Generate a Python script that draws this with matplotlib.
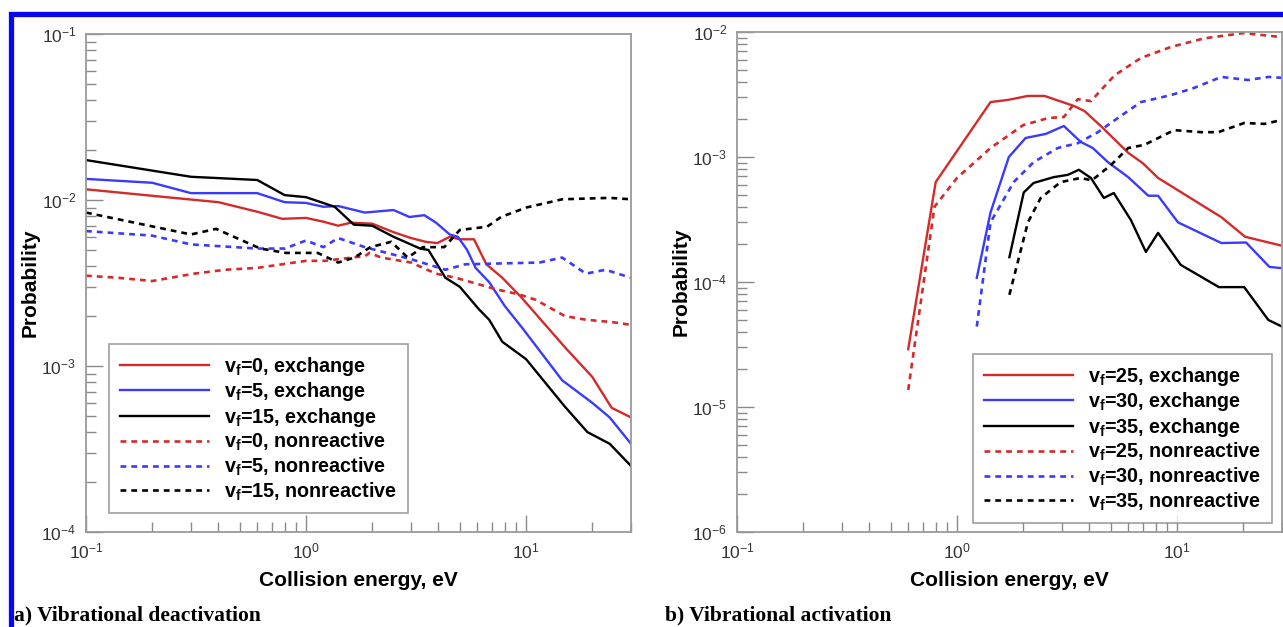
import matplotlib
matplotlib.use("Agg")
import matplotlib.pyplot as plt
from matplotlib.patches import Rectangle
from matplotlib.ticker import LogLocator, NullFormatter

plt.rcParams['font.family'] = ['Liberation Sans', 'DejaVu Sans']
plt.rcParams['mathtext.fontset'] = 'custom'
plt.rcParams['mathtext.rm'] = 'Liberation Sans'
plt.rcParams['mathtext.it'] = 'Liberation Sans:italic'
plt.rcParams['mathtext.bf'] = 'Liberation Sans:bold'

# ---------------- Panel a: vibrational deactivation ----------------
a_e_vf0_exch = [0.1, 0.2, 0.4, 0.6, 0.78, 1.0, 1.2, 1.4, 1.6, 2.0, 2.5, 3.0, 3.5, 3.95, 4.5, 5.0, 5.8, 6.6, 7.8, 9.5, 15, 20, 24.5, 30]
a_p_vf0_exch = [0.0116, 0.0106, 0.0097, 0.0085, 0.0077, 0.0078, 0.0074, 0.0070, 0.0073, 0.0072, 0.0064, 0.0059, 0.0056, 0.0055, 0.0060, 0.0058, 0.0058, 0.0041, 0.0034, 0.0026, 0.0013, 0.00086, 0.00056, 0.00049]

a_e_vf5_exch = [0.1, 0.2, 0.3, 0.6, 0.8, 1.0, 1.2, 1.4, 1.85, 2.5, 2.95, 3.45, 3.9, 4.5, 4.9, 5.4, 5.9, 6.8, 8.0, 9.6, 14.6, 20, 24, 30]
a_p_vf5_exch = [0.0134, 0.0127, 0.0110, 0.0110, 0.0097, 0.0096, 0.0091, 0.0092, 0.0084, 0.0087, 0.0079, 0.0081, 0.0073, 0.0062, 0.0060, 0.0050, 0.0039, 0.0032, 0.0023, 0.0017, 0.00082, 0.00060, 0.00049, 0.00034]

a_e_vf15_exch = [0.1, 0.3, 0.6, 0.8, 1.0, 1.35, 1.65, 2.0, 2.5, 3.3, 3.6, 4.3, 5.0, 6.1, 6.8, 7.8, 10, 15, 19, 24, 30]
a_p_vf15_exch = [0.0174, 0.0138, 0.0132, 0.0107, 0.0104, 0.0091, 0.0071, 0.0070, 0.0060, 0.0051, 0.0050, 0.0034, 0.0030, 0.0022, 0.0019, 0.0014, 0.0011, 0.00057, 0.00040, 0.00034, 0.00025]

a_e_vf0_nonr = [0.1, 0.14, 0.2, 0.31, 0.43, 0.6, 0.78, 1.0, 1.22, 1.4, 1.86, 1.94, 2.2, 3.0, 3.9, 4.8, 7.3, 9.3, 11.1, 15, 18.7, 24.5, 30]
a_p_vf0_nonr = [0.0035, 0.0034, 0.00325, 0.0036, 0.0038, 0.0039, 0.0041, 0.0043, 0.0043, 0.0044, 0.0046, 0.0048, 0.0045, 0.0042, 0.0036, 0.0034, 0.0029, 0.0027, 0.0025, 0.0020, 0.0019, 0.00184, 0.00177]

a_e_vf5_nonr = [0.1, 0.2, 0.3, 0.6, 0.8, 1.0, 1.2, 1.4, 1.85, 3.0, 4.3, 5.3, 11.5, 14.6, 18.7, 23, 30]
a_p_vf5_nonr = [0.0065, 0.0061, 0.0054, 0.0051, 0.0051, 0.0057, 0.0052, 0.0059, 0.0052, 0.0044, 0.0038, 0.0041, 0.0042, 0.0045, 0.0036, 0.0038, 0.0034]

a_e_vf15_nonr = [0.1, 0.3, 0.39, 0.62, 0.81, 1.13, 1.4, 1.66, 1.96, 2.44, 2.9, 3.4, 4.25, 5.0, 6.65, 7.7, 10, 14.6, 24, 30]
a_p_vf15_nonr = [0.0084, 0.0062, 0.0067, 0.0051, 0.0048, 0.0048, 0.0042, 0.0045, 0.0052, 0.0056, 0.0045, 0.0052, 0.0052, 0.0066, 0.0069, 0.0079, 0.0090, 0.0101, 0.0103, 0.0101]

a_labels = [r'v$_\mathbf{f}$=0, exchange', r'v$_\mathbf{f}$=5, exchange', r'v$_\mathbf{f}$=15, exchange',
            r'v$_\mathbf{f}$=0, nonreactive', r'v$_\mathbf{f}$=5, nonreactive', r'v$_\mathbf{f}$=15, nonreactive']

# ---------------- Panel b: vibrational activation ----------------
b_e_vf25_exch = [0.6, 0.8, 1.42, 1.7, 2.1, 2.5, 3.4, 3.8, 4.55, 6.0, 7.0, 8.2, 15.9, 20.4, 30]
b_p_vf25_exch = [2.9e-5, 6.3e-4, 2.75e-3, 2.86e-3, 3.08e-3, 3.08e-3, 2.56e-3, 2.33e-3, 1.74e-3, 1.08e-3, 8.9e-4, 6.8e-4, 3.3e-4, 2.3e-4, 1.95e-4]

b_e_vf30_exch = [1.23, 1.42, 1.72, 2.05, 2.53, 3.06, 3.65, 4.14, 4.85, 6.0, 7.4, 8.2, 10.1, 15.9, 20.6, 26.3, 30]
b_p_vf30_exch = [1.08e-4, 3.6e-4, 1.0e-3, 1.42e-3, 1.53e-3, 1.77e-3, 1.32e-3, 1.18e-3, 9.1e-4, 6.9e-4, 4.9e-4, 4.9e-4, 3.0e-4, 2.05e-4, 2.07e-4, 1.32e-4, 1.29e-4]

b_e_vf35_exch = [1.73, 2.01, 2.23, 2.75, 3.19, 3.58, 4.06, 4.65, 5.16, 6.17, 7.22, 8.2, 10.4, 15.5, 20.2, 26, 30]
b_p_vf35_exch = [1.58e-4, 5.2e-4, 6.2e-4, 6.9e-4, 7.2e-4, 7.9e-4, 6.8e-4, 4.7e-4, 5.15e-4, 3.13e-4, 1.74e-4, 2.47e-4, 1.37e-4, 9.1e-5, 9.1e-5, 4.97e-5, 4.4e-5]

b_e_vf25_nonr = [0.6, 0.79, 1.0, 1.42, 2.0, 2.6, 3.06, 3.54, 4.06, 5.2, 6.85, 9.4, 13.3, 20, 30]
b_p_vf25_nonr = [1.37e-5, 4.0e-4, 6.8e-4, 1.18e-3, 1.8e-3, 2.05e-3, 2.09e-3, 2.9e-3, 2.8e-3, 4.5e-3, 6.2e-3, 7.6e-3, 8.9e-3, 9.8e-3, 9.1e-3]

b_e_vf30_nonr = [1.23, 1.42, 1.81, 2.23, 2.87, 3.54, 4.37, 5.38, 6.85, 9.4, 11.9, 15.9, 21, 26, 30]
b_p_vf30_nonr = [4.4e-5, 3.0e-4, 6.3e-4, 9.1e-4, 1.18e-3, 1.29e-3, 1.58e-3, 2.05e-3, 2.75e-3, 3.13e-3, 3.56e-3, 4.37e-3, 4.13e-3, 4.37e-3, 4.3e-3]

b_e_vf35_nonr = [1.73, 2.1, 2.4, 2.96, 3.65, 4.1, 5.0, 6.0, 7.1, 9.7, 12.9, 15.4, 20.2, 25, 30]
b_p_vf35_nonr = [7.9e-5, 3.0e-4, 4.7e-4, 6.3e-4, 6.8e-4, 6.5e-4, 8.6e-4, 1.18e-3, 1.25e-3, 1.64e-3, 1.58e-3, 1.58e-3, 1.87e-3, 1.84e-3, 1.98e-3]

b_labels = [r'v$_\mathbf{f}$=25, exchange', r'v$_\mathbf{f}$=30, exchange', r'v$_\mathbf{f}$=35, exchange',
            r'v$_\mathbf{f}$=25, nonreactive', r'v$_\mathbf{f}$=30, nonreactive', r'v$_\mathbf{f}$=35, nonreactive']

captions = ['a) Vibrational deactivation', 'b) Vibrational activation']
xlabel = 'Collision energy, eV'
ylabel = 'Probability'

RED = '#d42a2a'
BLUE = '#3a3aff'
BLACK = '#000000'
colors = [RED, BLUE, BLACK, RED, BLUE, BLACK]
SPINE = '#9a9a9a'
TICKC = '#8a8a8a'

W, H = 1283, 627
fig = plt.figure(figsize=(W / 100, H / 100), dpi=100)

def px_axes(l, r, t, b):
    return fig.add_axes([l / W, 1 - b / H, (r - l) / W, (b - t) / H])

axa = px_axes(86, 631, 34, 532)
axb = px_axes(737, 1282, 32, 532)

def style(ax, ylim, series, labels, legend_bbox):
    for i, (e, p) in enumerate(series):
        if i < 3:
            ax.plot(e, p, color=colors[i], lw=1.7, label=labels[i])
        else:
            ax.plot(e, p, color=colors[i], lw=1.9, ls=(0, (2.2, 1.9)), label=labels[i])
    ax.set_xscale('log')
    ax.set_yscale('log')
    ax.set_xlim(0.1, 30)
    ax.set_ylim(*ylim)
    for s in ax.spines.values():
        s.set_color(SPINE)
        s.set_linewidth(1.3)
    ax.xaxis.set_major_locator(LogLocator(base=10, numticks=20))
    ax.yaxis.set_major_locator(LogLocator(base=10, numticks=20))
    ax.xaxis.set_minor_locator(LogLocator(base=10, subs=range(2, 10), numticks=20))
    ax.yaxis.set_minor_locator(LogLocator(base=10, subs=range(2, 10), numticks=20))
    ax.xaxis.set_minor_formatter(NullFormatter())
    ax.yaxis.set_minor_formatter(NullFormatter())
    ax.tick_params(which='major', direction='in', length=12, width=1.0, color=TICKC,
                   labelsize=12.5, labelcolor='#333333', top=False, right=False, pad=7)
    ax.tick_params(which='minor', direction='in', length=7, width=1.0, color=TICKC,
                   top=False, right=False)
    ax.set_xlabel(xlabel, fontsize=15, fontweight='bold', labelpad=7)
    ax.set_ylabel(ylabel, fontsize=15, fontweight='bold', labelpad=1)
    leg = ax.legend(loc='upper left', bbox_to_anchor=legend_bbox, frameon=True, fancybox=False,
                    prop={'weight': 'bold', 'size': 14.2}, handlelength=4.5, handletextpad=0.8,
                    labelspacing=0.12, borderpad=0.55, borderaxespad=0.0)
    leg.get_frame().set_edgecolor('#888888')
    leg.get_frame().set_linewidth(1.2)

style(axa, (1e-4, 1e-1),
      [(a_e_vf0_exch, a_p_vf0_exch), (a_e_vf5_exch, a_p_vf5_exch), (a_e_vf15_exch, a_p_vf15_exch),
       (a_e_vf0_nonr, a_p_vf0_nonr), (a_e_vf5_nonr, a_p_vf5_nonr), (a_e_vf15_nonr, a_p_vf15_nonr)],
      a_labels, ((109 - 86) / 545, (532 - 344) / 498))
style(axb, (1e-6, 1e-2),
      [(b_e_vf25_exch, b_p_vf25_exch), (b_e_vf30_exch, b_p_vf30_exch), (b_e_vf35_exch, b_p_vf35_exch),
       (b_e_vf25_nonr, b_p_vf25_nonr), (b_e_vf30_nonr, b_p_vf30_nonr), (b_e_vf35_nonr, b_p_vf35_nonr)],
      b_labels, ((973 - 737) / 545, (532 - 354) / 500))

fig.text(14 / W, 1 - 615 / H, captions[0], fontsize=15.5, fontweight='bold',
         family='Liberation Serif', va='center', ha='left')
fig.text(665 / W, 1 - 615 / H, captions[1], fontsize=15.5, fontweight='bold',
         family='Liberation Serif', va='center', ha='left')

# blue frame
fig.add_artist(Rectangle((10.5 / W, -0.05), 1.2, (1 - 14 / H) + 0.05, transform=fig.transFigure,
                         fill=False, edgecolor='#0808f0', linewidth=3.8, clip_on=False))

fig.savefig('out.png', dpi=100)
